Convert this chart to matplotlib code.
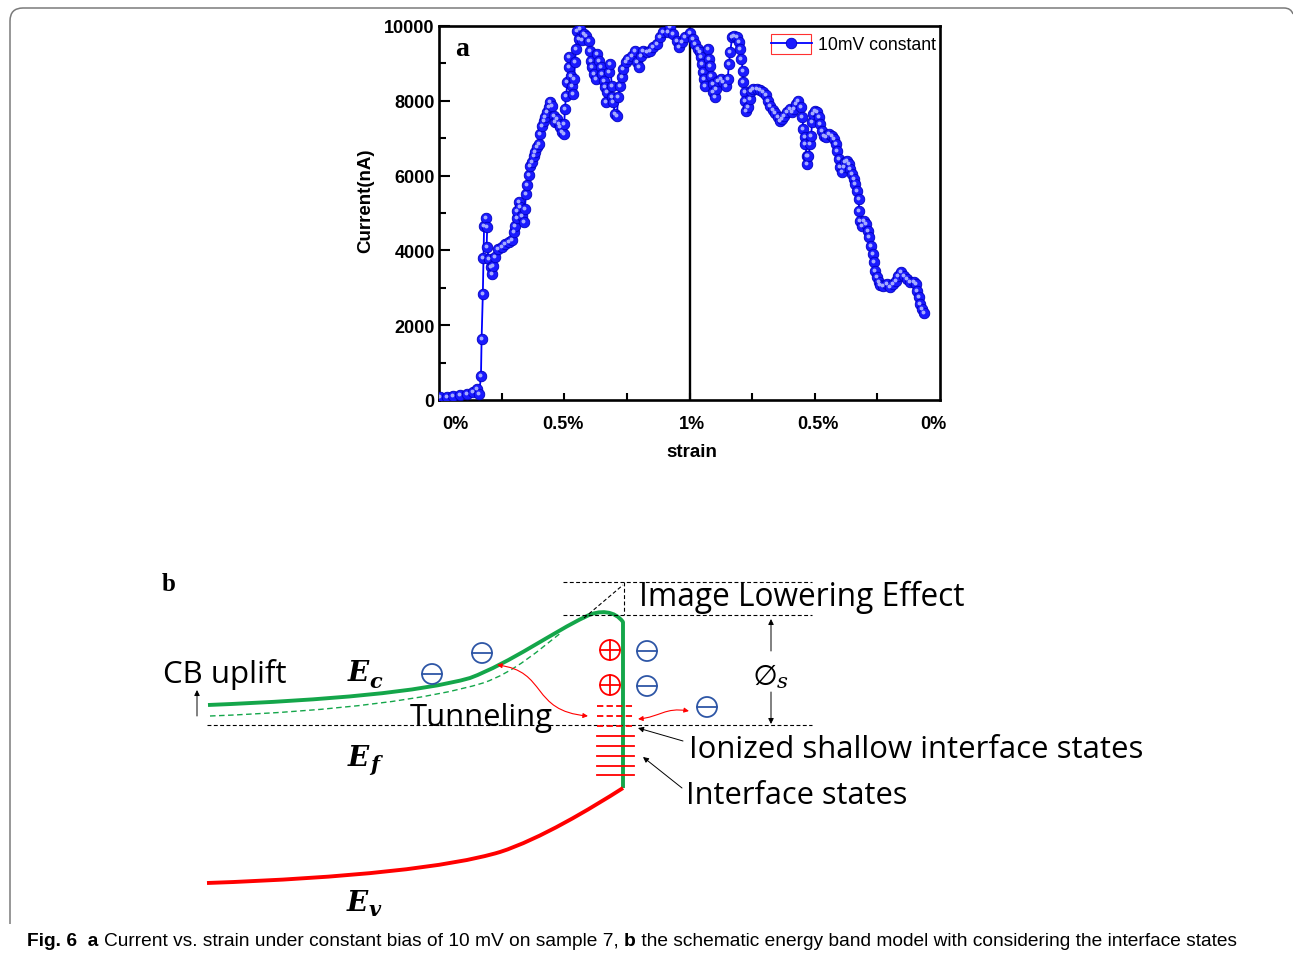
import matplotlib
matplotlib.use('Agg')
import matplotlib.pyplot as plt
from matplotlib.patches import Circle, FancyArrowPatch, PathPatch, Rectangle
from matplotlib.path import Path
from matplotlib import transforms

plt.rcParams['font.family'] = ['Liberation Sans', 'DejaVu Sans']

# ---------------- data (panel a) ----------------
# x position on the strain axis: 0 -> 4 loading (0% .. 1%), 4 -> 8 unloading (1% .. 0%)
load_strain = [
    0.02, 0.12, 0.23, 0.34, 0.44, 0.55, 0.60, 0.64, 0.67, 0.68,
    0.70, 0.71, 0.72, 0.75, 0.77, 0.76, 0.80, 0.83, 0.84, 0.87,
    0.89, 0.95, 1.00, 1.05, 1.11, 1.16, 1.19, 1.21, 1.24, 1.25,
    1.27, 1.29, 1.32, 1.35, 1.37, 1.39, 1.41, 1.43, 1.45, 1.48,
    1.51, 1.53, 1.56, 1.59, 1.61, 1.64, 1.67, 1.69, 1.72, 1.75,
    1.77, 1.80, 1.83, 1.85, 1.88, 1.91, 1.93, 1.96, 1.99, 2.00,
    2.01, 2.03, 2.05, 2.07, 2.08, 2.10, 2.12, 2.14, 2.16, 2.17,
    2.19, 2.20, 2.23, 2.25, 2.28, 2.31, 2.35, 2.39, 2.41, 2.43,
    2.45, 2.48, 2.50, 2.53, 2.56, 2.58, 2.60, 2.63, 2.65, 2.66,
    2.68, 2.71, 2.73, 2.76, 2.77, 2.78, 2.81, 2.84, 2.86, 2.89,
    2.92, 2.94, 2.99, 3.02, 3.08, 3.13, 3.16, 3.20, 3.22, 3.26,
    3.32, 3.37, 3.42, 3.48, 3.53, 3.58, 3.65, 3.69, 3.74, 3.80,
    3.84, 3.88, 3.93,
]
load_current = [
    71, 89, 116, 134, 169, 223, 296, 160, 633, 1631,
    2834, 3797, 4661, 4857, 4617, 4082, 3770, 3547, 3369, 3592,
    3815, 4037, 4082, 4171, 4234, 4287, 4483, 4661, 4857, 5062,
    5285, 5151, 4929, 4750, 5107, 5508, 5749, 6016, 6266, 6355,
    6533, 6622, 6756, 6845, 7112, 7335, 7469, 7558, 7692, 7825,
    7977, 7852, 7603, 7424, 7513, 7380, 7291, 7157, 7112, 7380,
    7781, 8137, 8494, 8895, 9162, 8672, 8405, 8182, 8583, 9029,
    9385, 9875, 9652, 9920, 9635, 9786, 9741, 9608, 9340, 9073,
    8895, 8717, 8583, 9251, 9073, 8895, 8717, 8538, 8360, 7959,
    8226, 8761, 8984, 8405, 8093, 7959, 7647, 7603, 8093, 8405,
    8628, 8850, 9029, 9118, 9207, 9340, 9029, 8895, 9207, 9340,
    9296, 9340, 9429, 9519, 9697, 9831, 9848, 9964, 9786, 9608,
    9429, 9563, 9697,
]
unload_strain = [
    4.01, 4.05, 4.09, 4.13, 4.16, 4.18, 4.20, 4.21, 4.23, 4.25,
    4.30, 4.31, 4.33, 4.35, 4.37, 4.38, 4.40, 4.42, 4.46, 4.50,
    4.54, 4.59, 4.61, 4.63, 4.65, 4.68, 4.71, 4.76, 4.79, 4.81,
    4.83, 4.85, 4.86, 4.88, 4.89, 4.91, 4.94, 4.96, 4.98, 5.02,
    5.07, 5.13, 5.18, 5.22, 5.26, 5.29, 5.33, 5.37, 5.41, 5.44,
    5.47, 5.51, 5.55, 5.60, 5.63, 5.67, 5.70, 5.74, 5.78, 5.80,
    5.82, 5.84, 5.85, 5.87, 5.88, 5.90, 5.93, 5.94, 5.96, 5.98,
    6.01, 6.03, 6.06, 6.09, 6.11, 6.14, 6.18, 6.22, 6.27, 6.31,
    6.34, 6.36, 6.38, 6.41, 6.44, 6.47, 6.49, 6.51, 6.54, 6.57,
    6.59, 6.62, 6.65, 6.67, 6.70, 6.71, 6.72, 6.75, 6.79, 6.82,
    6.85, 6.87, 6.90, 6.93, 6.95, 6.97, 6.99, 7.02, 7.04, 7.09,
    7.15, 7.20, 7.25, 7.29, 7.33, 7.38, 7.42, 7.47, 7.52, 7.58,
    7.62, 7.64, 7.66, 7.68, 7.71, 7.75,
]
unload_current = [
    9813, 9652, 9519, 9385, 9296, 9162, 8984, 8761, 8583, 8405,
    9385, 9118, 8939, 8672, 8449, 8226, 8093, 8316, 8538, 8583,
    8494, 8405, 8583, 8984, 9296, 9697, 9741, 9697, 9563, 9385,
    9118, 8806, 8494, 8226, 8004, 7736, 7825, 8048, 8271, 8316,
    8316, 8289, 8244, 8155, 8004, 7870, 7763, 7665, 7558, 7469,
    7513, 7603, 7692, 7781, 7692, 7781, 7914, 8004, 7825, 7558,
    7246, 7023, 6845, 6533, 6310, 6533, 6845, 7068, 7424, 7647,
    7736, 7692, 7558, 7380, 7201, 7068, 7023, 7112, 7068, 6979,
    6845, 6667, 6444, 6221, 6087, 6221, 6355, 6399, 6310, 6176,
    6043, 5909, 5775, 5597, 5374, 5062, 4795, 4661, 4795, 4706,
    4528, 4349, 4127, 3904, 3681, 3458, 3280, 3146, 3075, 3057,
    3102, 3012, 3102, 3191, 3324, 3414, 3324, 3235, 3146, 3146,
    3102, 2923, 2745, 2567, 2433, 2326,
]
x_tick_marks = [1, 2, 3, 4, 5, 6, 7]
x_label_pos = [0.26, 1.98, 4.04, 6.05, 7.89]
x_label_text = ['0%', '0.5%', '1%', '0.5%', '0%']
y_major = [0, 2000, 4000, 6000, 8000, 10000]
y_minor = [1000, 3000, 5000, 7000, 9000]
series_label = '10mV constant'
turn_point = 4

caption_parts = [
    ('Fig. 6', 'bold'),
    ('  a ', 'bold'),
    ('Current vs. strain under constant bias of 10 mV on sample 7, ', 'normal'),
    ('b', 'bold'),
    (' the schematic energy band model with considering the interface states', 'normal'),
]

# ---------------- figure ----------------
W, H = 1293, 954
fig = plt.figure(figsize=(W / 100, H / 100), dpi=100)
renderer = fig.canvas.get_renderer()

ov = fig.add_axes([0, 0, 1, 1])
ov.set_xlim(0, W)
ov.set_ylim(H, 0)
ov.axis('off')


def fit(t, width):
    bb = t.get_window_extent(renderer)
    t.set_fontsize(t.get_fontsize() * width / bb.width)
    return t


# outer rounded frame
frame = Path([(10, 925), (10, 22), (10, 9), (23, 9), (1284, 9), (1291, 9), (1293, 15)],
             [Path.MOVETO, Path.LINETO, Path.CURVE3, Path.CURVE3, Path.LINETO, Path.CURVE3, Path.CURVE3])
ov.add_patch(PathPatch(frame, fill=False, ec='#7a7a7a', lw=1.1))

# ---------------- panel a ----------------
ax = fig.add_axes([439 / W, 1 - 401 / H, 501 / W, 374 / H])
ax.patch.set_alpha(0)
xs = load_strain + unload_strain
ys = load_current + unload_current
ax.plot(xs, ys, '-', color='#0000ff', lw=1.3, marker='o', ms=7.6,
        mfc='#1a1aff', mec='#0000c0', mew=0.6, label=series_label, zorder=3)
hl = transforms.offset_copy(ax.transData, fig=fig, x=-1.0, y=1.0, units='dots')
ax.plot(xs, ys, ls='none', marker='o', ms=1.8, color='#a4aaff', transform=hl, zorder=4)
ax.axvline(turn_point, color='black', lw=1.7, zorder=2)
ax.set_xlim(0, 8)
ax.set_ylim(0, 10000)

ax.set_xticks(x_tick_marks)
ax.set_xticklabels([])
ax.set_xticks(x_label_pos, minor=True)
ax.set_xticklabels(x_label_text, minor=True, fontweight='bold', fontsize=13)
ax.tick_params(axis='x', which='major', direction='in', length=5, width=1.5)
ax.tick_params(axis='x', which='minor', length=0, pad=11)
ax.set_yticks(y_major)
ax.set_yticks(y_minor, minor=True)
ax.set_yticklabels([str(v) for v in y_major], fontweight='bold', fontsize=13)
ax.tick_params(axis='y', which='major', direction='in', length=8, width=1.5, pad=3)
ax.tick_params(axis='y', which='minor', direction='in', length=5, width=1.5)
for s in ax.spines.values():
    s.set_linewidth(1.9)

ax.set_ylabel('Current(nA)', fontweight='bold', fontsize=13.5)
ax.yaxis.label.set_va('center')
ax.yaxis.set_label_coords(-0.146, 0.535)
ax.set_xlabel('strain', fontweight='bold', fontsize=13.5)
ax.xaxis.label.set_va('center')
ax.xaxis.set_label_coords(0.505, -0.139)

leg = ax.legend(loc='upper left', bbox_to_anchor=(771 / W, 1 - 37 / H), bbox_transform=fig.transFigure,
                frameon=False, handlelength=2.3, handletextpad=0.35, borderpad=0, borderaxespad=0,
                prop={'size': 12.7})
ax.add_patch(Rectangle((771, 35), 40, 20, transform=ov.transData, fill=False, ec='#ff3030',
                       lw=0.8, clip_on=False))
ax.text(455, 56, 'a', transform=ov.transData, fontsize=20, fontweight='bold',
        family='Liberation Serif', ha='left', va='baseline')

# ---------------- panel b ----------------
GREEN = '#14a64a'
RED = '#ff0000'
BLUE = '#2e56a6'
M, C4, L = Path.MOVETO, Path.CURVE4, Path.LINETO

ov.text(162, 591, 'b', fontsize=18, fontweight='bold', family='Liberation Serif', ha='left', va='baseline')

# dashed reference lines
dash_kw = dict(color='black', lw=0.8, dashes=(3.5, 2.2))
ov.plot([207, 812], [725.5, 725.5], **dash_kw)
ov.plot([563, 812], [583, 583], **dash_kw)
ov.plot([563, 812], [615.5, 615.5], **dash_kw)
ov.plot([624, 624], [583, 616], **dash_kw)
ov.plot([584, 623], [619, 586], **dash_kw)

# band lines
ec_path = Path([(208, 706), (330, 701), (420, 693), (470, 679), (510, 664), (555, 632), (585, 618),
                (600, 610), (615, 612), (623, 623), (623, 789)],
               [M, C4, C4, C4, C4, C4, C4, C4, C4, C4, L])
ov.add_patch(PathPatch(ec_path, fill=False, ec=GREEN, lw=2.8, capstyle='butt', joinstyle='round'))
ec_dash = Path([(210, 717), (340, 712), (430, 700), (483, 684), (515, 673), (540, 650), (562, 633)],
               [M, C4, C4, C4, C4, C4, C4])
ov.add_patch(PathPatch(ec_dash, fill=False, ec=GREEN, lw=1.0, linestyle=(0, (4, 2.5))))
ev_path = Path([(207, 884), (350, 879), (450, 868), (500, 853), (540, 840), (590, 810), (623, 789)],
               [M, C4, C4, C4, C4, C4, C4])
ov.add_patch(PathPatch(ev_path, fill=False, ec=RED, lw=2.8, capstyle='butt'))

# interface states
for yy in (707, 717, 727):
    ov.plot([597, 634], [yy, yy], color=RED, lw=1.3, dashes=(3.5, 1.8))
for yy in (737, 747, 757, 767, 776):
    ov.plot([597, 634], [yy, yy], color=RED, lw=1.3)


def charge(x, y, positive):
    col = RED if positive else BLUE
    r = 10
    ov.add_patch(Circle((x, y), r, fill=False, ec=col, lw=1.3))
    ov.plot([x - r, x + r], [y, y], color=col, lw=1.3)
    if positive:
        ov.plot([x, x], [y - r, y + r], color=col, lw=1.3)


charge(610, 651, True)
charge(610, 686, True)
charge(647, 652, False)
charge(647, 687, False)
charge(707, 708, False)
charge(432, 675, False)
charge(482, 654, False)


# arrows
def arrow(p0, p1, col='black', style='-|>', lw=0.7, ms=8, path=None):
    if path is not None:
        a = FancyArrowPatch(path=path, arrowstyle=style, color=col, lw=lw, mutation_scale=ms)
    else:
        a = FancyArrowPatch(p0, p1, arrowstyle=style, color=col, lw=lw, mutation_scale=ms,
                            shrinkA=0, shrinkB=0)
    ov.add_patch(a)


arrow((197, 717), (197, 691))
arrow((771, 652), (771, 620))
arrow((771, 693), (771, 725))
arrow((683, 742), (638, 729))
arrow((682, 789), (643, 758))
arrow(None, None, col=RED, style='<|-|>', lw=0.8, ms=7,
      path=Path([(497, 666), (548, 672), (530, 712), (588, 717)], [M, C4, C4, C4]))
arrow(None, None, col=RED, style='<|-|>', lw=0.8, ms=7,
      path=Path([(638, 720), (660, 718), (665, 708), (689, 712)], [M, C4, C4, C4]))

# labels
lab_font = 'Open Sans'
fit(ov.text(163, 683, 'CB uplift', family=lab_font, fontsize=20, ha='left', va='baseline'), 124)
fit(ov.text(410, 726, 'Tunneling', family=lab_font, fontsize=20, ha='left', va='baseline'), 143)
fit(ov.text(639, 606, 'Image Lowering Effect', family=lab_font, fontsize=20, ha='left', va='baseline'), 325)
fit(ov.text(689, 758, 'Ionized shallow interface states', family=lab_font, fontsize=20,
            ha='left', va='baseline'), 454)
fit(ov.text(686, 804, 'Interface states', family=lab_font, fontsize=20, ha='left', va='baseline'), 221)

sym = dict(family='DejaVu Serif', fontweight='bold', fontstyle='italic', ha='left', va='baseline')
ov.text(348, 681, 'E', fontsize=20, **sym)
ov.text(369, 688, 'c', fontsize=15, **sym)
ov.text(348, 766, 'E', fontsize=20, **sym)
ov.text(370, 771, 'f', fontsize=15, **sym)
ov.text(347, 911, 'E', fontsize=20, **sym)
ov.text(369, 916, 'v', fontsize=15, **sym)
ov.text(753, 684, r'$\emptyset_{s}$', fontsize=22, math_fontfamily='dejavuserif',
        ha='left', va='baseline')

# ---------------- caption ----------------
cap_font = ['Liberation Sans']
texts = []
first = ov.text(27, 946, caption_parts[0][0], fontweight=caption_parts[0][1], family=cap_font,
                fontsize=14, ha='left', va='baseline')
texts.append(first)
prev = first
for txt, wt in caption_parts[1:]:
    t = ov.annotate(txt, xy=(1, 0), xycoords=prev, fontweight=wt, family=cap_font, fontsize=14,
                    ha='left', va='bottom')
    texts.append(t)
    prev = t
for _ in range(3):
    fig.canvas.draw()
    total = texts[-1].get_window_extent(renderer).x1 - texts[0].get_window_extent(renderer).x0
    scale = 1211 / total
    for t in texts:
        t.set_fontsize(t.get_fontsize() * scale)

fig.savefig('out.png', dpi=100)
